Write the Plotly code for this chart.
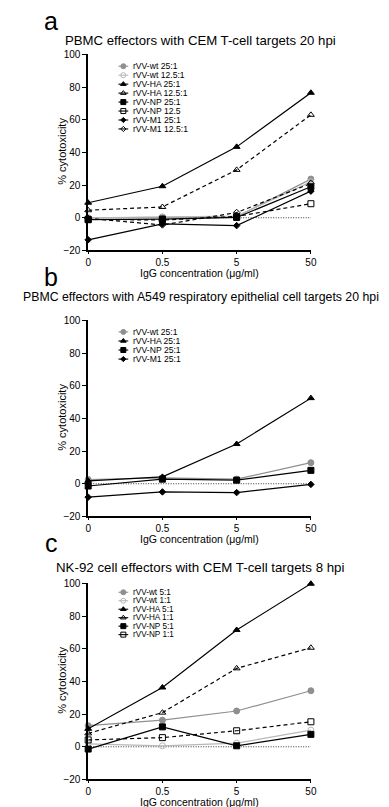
import plotly.graph_objects as go

W, H = 389, 807

# ---------------- data ----------------
x_labels = ["0", "0.5", "5", "50"]
y_ticks = [-20, 0, 20, 40, 60, 80, 100]

# panel a : PBMC effectors with CEM T-cell targets 20 hpi
a_wt_25 = [0.0, 0.5, 0.6, 23.7]
a_wt_12 = [0.0, 0.3, 1.0, 22.0]
a_ha_25 = [9.2, 19.3, 43.4, 76.5]
a_ha_12 = [4.6, 6.6, 29.3, 63.0]
a_np_25 = [-1.2, -0.8, 0.2, 19.0]
a_np_12 = [-1.0, -1.4, 0.8, 8.6]
a_m1_25 = [-13.5, -3.8, -4.8, 16.3]
a_m1_12 = [-0.4, -4.4, 3.2, 21.0]

# panel b : PBMC effectors with A549 targets 20 hpi
b_wt_25 = [2.6, 3.6, 2.8, 12.9]
b_ha_25 = [1.8, 4.2, 24.3, 52.4]
b_np_25 = [-1.4, 2.8, 2.2, 8.2]
b_m1_25 = [-8.2, -5.0, -5.4, -0.4]

# panel c : NK-92 effectors with CEM targets 8 hpi
c_wt_5 = [12.9, 16.3, 21.9, 34.3]
c_wt_1 = [1.8, 0.6, 2.2, 10.2]
c_ha_5 = [11.0, 36.3, 71.5, 99.8]
c_ha_1 = [8.2, 20.9, 48.0, 60.6]
c_np_5 = [-1.4, 12.2, 0.6, 7.6]
c_np_1 = [4.2, 5.6, 9.8, 15.3]

titles = [
    "PBMC effectors with CEM T-cell targets 20 hpi",
    "PBMC effectors with A549 respiratory epithelial cell targets 20 hpi",
    "NK-92 cell effectors with CEM T-cell targets 8 hpi",
]
letters = ["a", "b", "c"]

panels = [
    [("rVV-wt 25:1", a_wt_25, "wt_hi"), ("rVV-wt 12.5:1", a_wt_12, "wt_lo"),
     ("rVV-HA 25:1", a_ha_25, "ha_hi"), ("rVV-HA 12.5:1", a_ha_12, "ha_lo"),
     ("rVV-NP 25:1", a_np_25, "np_hi"), ("rVV-NP 12.5", a_np_12, "np_lo"),
     ("rVV-M1 25:1", a_m1_25, "m1_hi"), ("rVV-M1 12.5:1", a_m1_12, "m1_lo")],
    [("rVV-wt 25:1", b_wt_25, "wt_hi"), ("rVV-HA 25:1", b_ha_25, "ha_hi"),
     ("rVV-NP 25:1", b_np_25, "np_hi"), ("rVV-M1 25:1", b_m1_25, "m1_hi")],
    [("rVV-wt 5:1", c_wt_5, "wt_hi"), ("rVV-wt 1:1", c_wt_1, "wt_lo"),
     ("rVV-HA 5:1", c_ha_5, "ha_hi"), ("rVV-HA 1:1", c_ha_1, "ha_lo"),
     ("rVV-NP 5:1", c_np_5, "np_hi"), ("rVV-NP 1:1", c_np_1, "np_lo")],
]

# ---------------- styles / layout ----------------
DASH = "4px,3px"
styles = {
    "wt_hi": dict(color="#8f8f8f", dash="solid", symbol="circle", size=6),
    "wt_lo": dict(color="#b8b8b8", dash="solid", symbol="circle-open", size=6),
    "ha_hi": dict(color="#000000", dash="solid", symbol="triangle-up", size=6),
    "ha_lo": dict(color="#000000", dash=DASH, symbol="triangle-up-open", size=6),
    "np_hi": dict(color="#000000", dash="solid", symbol="square", size=6),
    "np_lo": dict(color="#000000", dash=DASH, symbol="square-open", size=6),
    "m1_hi": dict(color="#000000", dash="solid", symbol="diamond", size=5),
    "m1_lo": dict(color="#000000", dash=DASH, symbol="diamond-open", size=5),
}

FONT = "Liberation Sans, Arial, sans-serif"
px_left, px_right = 79, 307
plot_tops = [41, 311, 578]
plot_h = 199
legend_first = [53, 322.7, 587]
legend_step = [9.1, 9.2, 8.6]
legend_font = [8.6, 8.6, 8.2]
title_y = [27, 287, 562]
title_x = [194, 194, 194]
title_size = [13.2, 12.3, 13.3]
letter_y = [6.6, 266.6, 536.6]

fig = go.Figure()
annotations = []
shapes = []
layout_axes = {}

for i, series in enumerate(panels):
    n = i + 1
    xa = "x" if n == 1 else f"x{n}"
    ya = "y" if n == 1 else f"y{n}"
    top = plot_tops[i]
    bot = top + plot_h
    layout_axes["xaxis" if n == 1 else f"xaxis{n}"] = dict(
        domain=[px_left / W, px_right / W], anchor=ya,
        type="category", categoryorder="array", categoryarray=x_labels,
        range=[0, 3], showgrid=False, zeroline=False,
        showline=True, linecolor="black", linewidth=1.5,
        ticks="outside", ticklen=2, tickwidth=1, tickcolor="black",
        tickfont=dict(family=FONT, size=10, color="black"),
        fixedrange=True,
    )
    layout_axes["yaxis" if n == 1 else f"yaxis{n}"] = dict(
        domain=[1 - bot / H, 1 - top / H], anchor=xa,
        range=[-20, 100], tickvals=y_ticks, showgrid=False, zeroline=False,
        showline=True, linecolor="black", linewidth=1.5,
        ticks="outside", ticklen=4, tickwidth=1.2, tickcolor="black",
        tickfont=dict(family=FONT, size=10, color="black"),
        fixedrange=True,
    )
    # dotted zero line
    shapes.append(dict(type="line", xref=f"{xa} domain", yref=ya,
                       x0=0, x1=1, y0=0, y1=0, layer="below",
                       line=dict(color="black", width=0.8, dash="1px,1.5px")))
    for name, vals, key in series:
        s = styles[key]
        fig.add_trace(go.Scatter(
            x=x_labels, y=vals, xaxis=xa, yaxis=ya, mode="lines+markers",
            name=name, showlegend=False, cliponaxis=False,
            line=dict(color=s["color"], width=1.2, dash=s["dash"]),
            marker=dict(symbol=s["symbol"], size=s["size"], color=s["color"],
                        line=dict(color=s["color"], width=1)),
        ))
    # manual legend (pixel overlay axis)
    for j, (name, vals, key) in enumerate(series):
        s = styles[key]
        yy = legend_first[i] + j * legend_step[i]
        fig.add_trace(go.Scatter(
            x=[110, 115, 120], y=[yy, yy, yy], xaxis="x4", yaxis="y4",
            mode="lines", showlegend=False, hoverinfo="skip",
            line=dict(color=s["color"], width=1.1, dash="solid"),
        ))
        fig.add_trace(go.Scatter(
            x=[115], y=[yy], xaxis="x4", yaxis="y4", mode="markers",
            showlegend=False, hoverinfo="skip",
            marker=dict(symbol=s["symbol"], size=s["size"] - 1, color=s["color"],
                        line=dict(color=s["color"], width=1)),
        ))
        annotations.append(dict(
            xref="x4", yref="y4", x=123, y=yy, text=name, showarrow=False,
            xanchor="left", yanchor="middle",
            font=dict(family=FONT, size=legend_font[i], color="black"),
        ))
    # titles / letters / axis titles
    annotations.append(dict(
        xref="x4", yref="y4", x=title_x[i], y=title_y[i], text=titles[i],
        showarrow=False, xanchor="center", yanchor="middle",
        font=dict(family=FONT, size=title_size[i], color="black"),
    ))
    annotations.append(dict(
        xref="x4", yref="y4", x=41, y=letter_y[i], text=letters[i],
        showarrow=False, xanchor="center", yanchor="middle",
        font=dict(family=FONT, size=25, color="black"),
    ))
    annotations.append(dict(
        xref="x4", yref="y4", x=193, y=bot + 23, text="IgG concentration (μg/ml)",
        showarrow=False, xanchor="center", yanchor="middle",
        font=dict(family=FONT, size=10.5, color="black"),
    ))
    annotations.append(dict(
        xref="x4", yref="y4", x=52, y=top + 98, text="% cytotoxicity",
        showarrow=False, xanchor="center", yanchor="middle", textangle=-90,
        font=dict(family=FONT, size=11, color="black"),
    ))

layout_axes["xaxis4"] = dict(domain=[0, 1], range=[0, W], visible=False,
                             anchor="y4", fixedrange=True)
layout_axes["yaxis4"] = dict(domain=[0, 1], range=[H, 0], visible=False,
                             anchor="x4", fixedrange=True)

fig.update_layout(
    width=W, height=H, autosize=False,
    margin=dict(l=0, r=0, t=0, b=0, pad=0),
    paper_bgcolor="white", plot_bgcolor="rgba(0,0,0,0)",
    showlegend=False, annotations=annotations, shapes=shapes,
    font=dict(family=FONT, color="black"),
    **layout_axes,
)

fig.write_html("out.html", config={"displayModeBar": False})
